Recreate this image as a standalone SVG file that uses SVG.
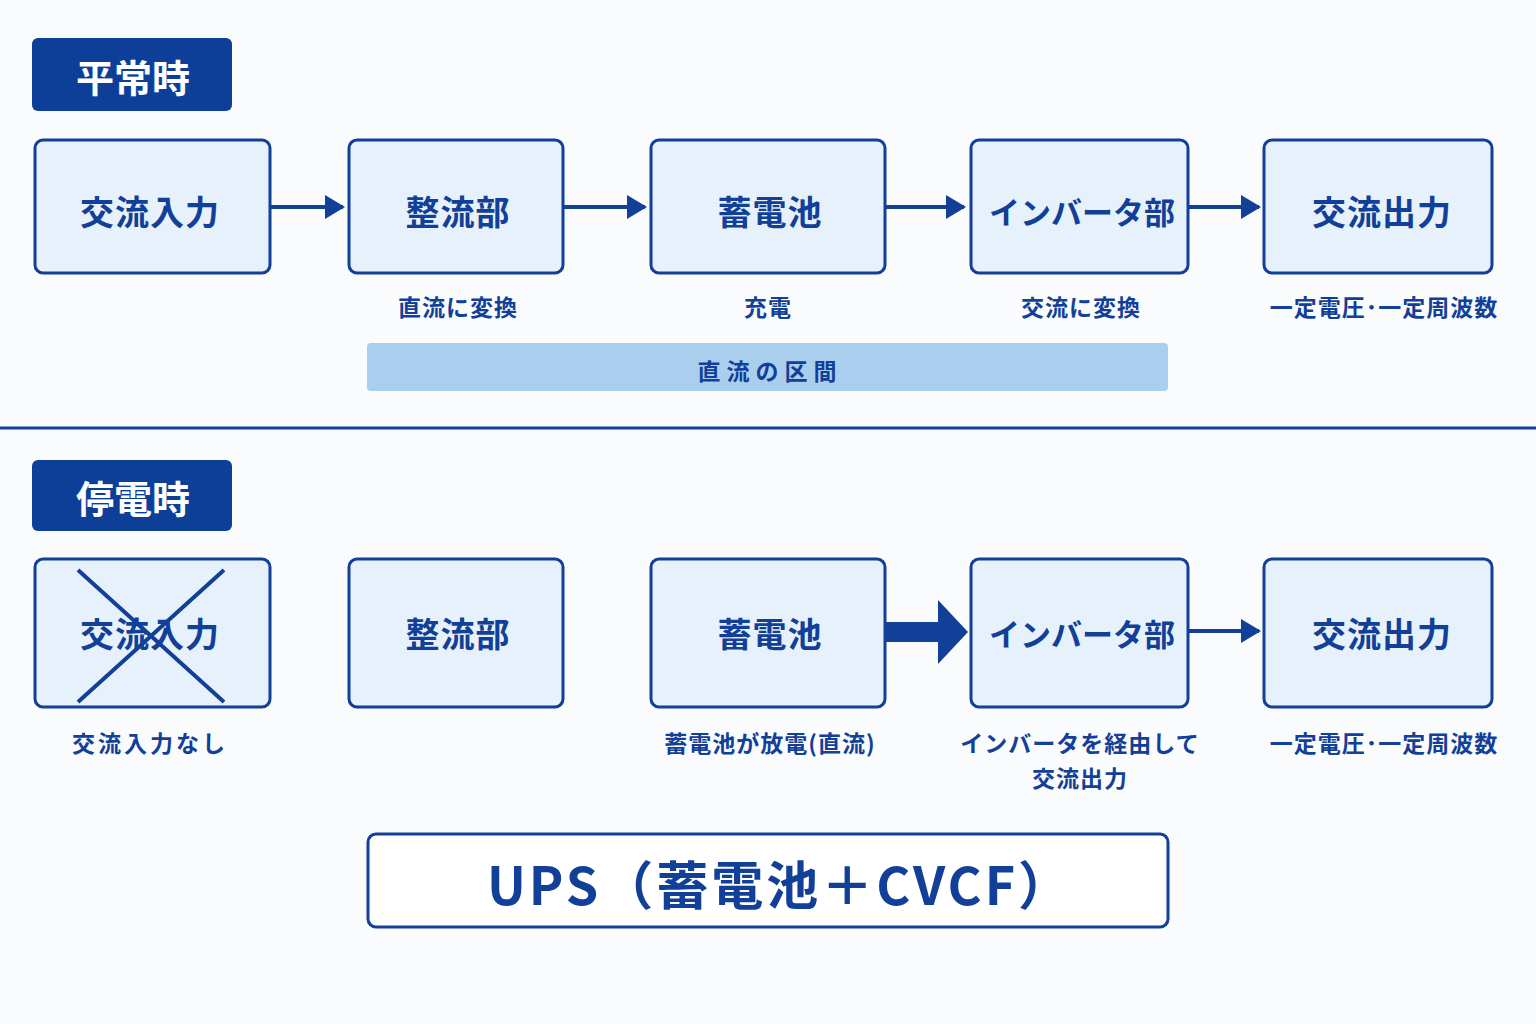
<svg xmlns="http://www.w3.org/2000/svg" width="1536" height="1024" viewBox="0 0 1536 1024">
<style>
.node{fill:#e6f1fb;stroke:#123f98;stroke-width:3}
.nt{font-family:"Noto Sans CJK JP","Noto Sans",sans-serif;font-weight:700;font-size:34px;fill:#123f98;text-anchor:middle;dominant-baseline:central;letter-spacing:1px}
.nts{font-size:31px;letter-spacing:0}
.sub{font-family:"Noto Sans CJK JP","Noto Sans",sans-serif;font-weight:700;font-size:23px;fill:#123f98;text-anchor:middle;dominant-baseline:central;letter-spacing:1px}
.hd{fill:#0d3f99}
.ht{font-family:"Noto Sans CJK JP",sans-serif;font-weight:700;font-size:38px;fill:#fff;text-anchor:middle;dominant-baseline:central}
.ln{stroke:#123f98;stroke-width:4;fill:none}
</style>
<defs>
<marker id="a" viewBox="0 0 10 10" refX="9" refY="5" markerWidth="20" markerHeight="24" markerUnits="userSpaceOnUse" orient="auto" preserveAspectRatio="none"><path d="M0,0L10,5L0,10z" fill="#123f98"/></marker></defs>
<rect width="1536" height="1024" fill="#fafbfd"/>
<g id="h1"><rect class="hd" x="32" y="38" width="200" height="73" rx="6"/><text class="ht" x="133" y="75">平常時</text></g>
<g id="n1"><rect class="node" x="35" y="140" width="235" height="133" rx="8"/><text class="nt" x="150" y="210">交流入力</text></g>
<g id="n2"><rect class="node" x="349" y="140" width="214" height="133" rx="8"/><text class="nt" x="458" y="210">整流部</text></g>
<g id="n3"><rect class="node" x="651" y="140" width="234" height="133" rx="8"/><text class="nt" x="770" y="210">蓄電池</text></g>
<g id="n4"><rect class="node" x="971" y="140" width="217" height="133" rx="8"/><text class="nt nts" x="1082" y="210">インバータ部</text></g>
<g id="n5"><rect class="node" x="1264" y="140" width="228" height="133" rx="8"/><text class="nt" x="1382" y="210">交流出力</text></g>
<g id="sub1"><text class="sub" x="458" y="306">直流に変換</text><text class="sub" x="768" y="306">充電</text><text class="sub" x="1081" y="306">交流に変換</text><text class="sub" x="1384" y="306">一定電圧･一定周波数</text></g>
<g id="bar"><rect x="367" y="343" width="801" height="48" rx="4" fill="#aacfee"/><text class="sub" x="770" y="370" style="letter-spacing:6px">直流の区間</text></g>
<line x1="0" y1="428" x2="1536" y2="428" stroke="#123f98" stroke-width="3"/>
<g id="h2"><rect class="hd" x="32" y="460" width="200" height="71" rx="6"/><text class="ht" x="133" y="496">停電時</text></g>
<g id="m1"><rect class="node" x="35" y="559" width="235" height="148" rx="8"/><text class="nt" x="150" y="632">交流入力</text>
<path d="M78,570L224,702M224,570L78,702" stroke="#123f98" stroke-width="4"/></g>
<g id="m2"><rect class="node" x="349" y="559" width="214" height="148" rx="8"/><text class="nt" x="458" y="632">整流部</text></g>
<g id="m3"><rect class="node" x="651" y="559" width="234" height="148" rx="8"/><text class="nt" x="770" y="632">蓄電池</text></g>
<g id="m4"><rect class="node" x="971" y="559" width="217" height="148" rx="8"/><text class="nt nts" x="1082" y="632">インバータ部</text></g>
<g id="m5"><rect class="node" x="1264" y="559" width="228" height="148" rx="8"/><text class="nt" x="1382" y="632">交流出力</text></g>
<g id="sub2"><text class="sub" x="150" y="742" style="letter-spacing:3px">交流入力なし</text><text class="sub" x="770" y="742">蓄電池が放電(直流)</text><text class="sub" x="1080" y="742">インバータを経由して</text><text class="sub" x="1080" y="777">交流出力</text><text class="sub" x="1384" y="742">一定電圧･一定周波数</text></g>
<g id="connectors">
<line class="ln" x1="270" y1="207" x2="343" y2="207" marker-end="url(#a)"/>
<line class="ln" x1="563" y1="207" x2="645" y2="207" marker-end="url(#a)"/>
<line class="ln" x1="885" y1="207" x2="964" y2="207" marker-end="url(#a)"/>
<line class="ln" x1="1188" y1="207" x2="1259" y2="207" marker-end="url(#a)"/>
<path d="M885,622H938V600L968,632L938,664V642H885Z" fill="#123f98"/>
<line class="ln" x1="1188" y1="631" x2="1259" y2="631" marker-end="url(#a)"/>
</g>
<g id="ups"><rect x="368" y="834" width="800" height="93" rx="8" fill="#fff" stroke="#123f98" stroke-width="3"/><text x="780" y="882" font-family="Noto Sans CJK JP,sans-serif" font-weight="700" font-size="52" fill="#123f98" text-anchor="middle" dominant-baseline="central" letter-spacing="3">UPS（蓄電池＋CVCF）</text></g>
</svg>
